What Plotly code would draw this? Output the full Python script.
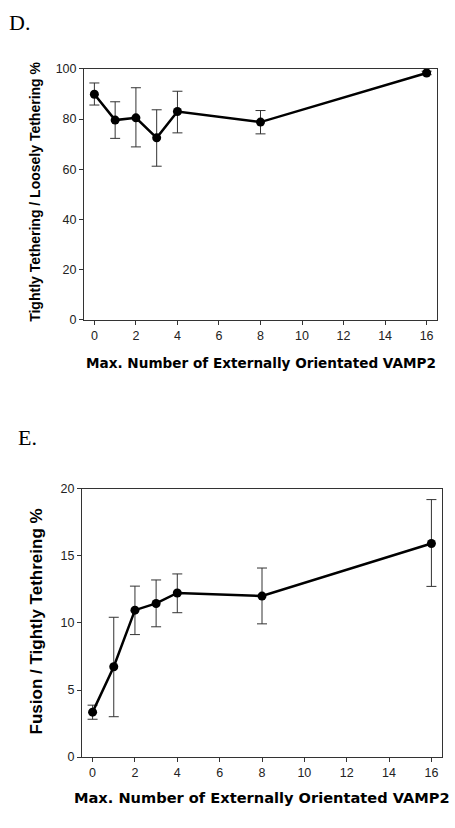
import plotly.graph_objects as go

W, H = 455, 828

# Panel D data
x_vals = [0, 1, 2, 3, 4, 8, 16]
d_mean = [89.9, 79.6, 80.5, 72.5, 83.0, 78.8, 98.4]
d_up = [94.4, 86.9, 92.5, 83.7, 91.1, 83.4, 99.1]
d_lo = [85.6, 72.3, 68.9, 61.2, 74.5, 74.1, 97.7]

# Panel E data
e_mean = [3.35, 6.73, 10.95, 11.45, 12.23, 12.0, 15.92]
e_up = [3.87, 10.42, 12.74, 13.2, 13.65, 14.09, 19.19]
e_lo = [2.82, 3.01, 9.13, 9.71, 10.76, 9.93, 12.72]

x_ticks = [0, 2, 4, 6, 8, 10, 12, 14, 16]
d_yticks = [0, 20, 40, 60, 80, 100]
e_yticks = [0, 5, 10, 15, 20]

x_title = "Max. Number of Externally Orientated VAMP2"
d_ytitle = "Tightly Tethering / Loosely Tethering %"
e_ytitle = "Fusion / Tightly Tethreing %"


def err(mean, up, lo):
    return ([u - m for u, m in zip(up, mean)], [m - l for m, l in zip(mean, lo)])


fig = go.Figure()

d_p, d_m = err(d_mean, d_up, d_lo)
e_p, e_m = err(e_mean, e_up, e_lo)

fig.add_trace(go.Scatter(
    x=x_vals, y=d_mean, mode="lines+markers",
    line=dict(color="black", width=2.5),
    marker=dict(color="black", size=9),
    error_y=dict(type="data", symmetric=False, array=d_p, arrayminus=d_m,
                 color="#333333", thickness=1, width=5),
    xaxis="x", yaxis="y", showlegend=False))

fig.add_trace(go.Scatter(
    x=x_vals, y=e_mean, mode="lines+markers",
    line=dict(color="black", width=2.5),
    marker=dict(color="black", size=9),
    error_y=dict(type="data", symmetric=False, array=e_p, arrayminus=e_m,
                 color="#333333", thickness=1, width=5),
    xaxis="x2", yaxis="y2", showlegend=False))

tickfont = dict(family="Liberation Sans, Arial", size=12.5, color="#222222")

ax_common = dict(showline=True, linecolor="#333333", linewidth=1, mirror=True,
                 ticks="outside", ticklen=4, tickcolor="#333333",
                 showgrid=False, zeroline=False, tickfont=tickfont)

fig.update_layout(
    width=W, height=H,
    margin=dict(l=0, r=0, t=0, b=0),
    paper_bgcolor="white", plot_bgcolor="white",
    xaxis=dict(domain=[84 / W, 437 / W], range=[-0.5, 16.5], tickvals=x_ticks,
               anchor="y", **ax_common),
    yaxis=dict(domain=[1 - 318 / H, 1 - 63 / H], range=[0, 100], tickvals=d_yticks,
               anchor="x", **ax_common),
    xaxis2=dict(domain=[82 / W, 442 / W], range=[-0.5, 16.5], tickvals=x_ticks,
                anchor="y2", **ax_common),
    yaxis2=dict(domain=[1 - 763 / H, 1 - 490 / H], range=[0, 20], tickvals=e_yticks,
                anchor="x2", **ax_common),
)

serif = "Liberation Serif, Times New Roman"
wide_bold = "DejaVu Sans, Verdana"
arial = "Liberation Sans, Arial"
ann = [
    dict(text="D.", x=7 / W, y=1 - 16 / H, xanchor="left", yanchor="middle",
         font=dict(family=serif, size=22, color="black")),
    dict(text="E.", x=16 / W, y=1 - 438 / H, xanchor="left", yanchor="middle",
         font=dict(family=serif, size=22, color="black")),
    dict(text="<b>" + x_title + "</b>", x=261 / W, y=1 - 362 / H, xanchor="center",
         yanchor="middle", font=dict(family=wide_bold, size=13.6, color="black")),
    dict(text="<b>" + x_title + "</b>", x=262 / W, y=1 - 804 / H, xanchor="center",
         yanchor="middle", font=dict(family=wide_bold, size=14.6, color="black")),
    dict(text="<b>" + d_ytitle + "</b>", x=35 / W, y=1 - 188 / H, xanchor="center",
         yanchor="middle", textangle=-90, font=dict(family=arial, size=14, color="black")),
    dict(text="<b>" + e_ytitle + "</b>", x=36 / W, y=1 - 625 / H, xanchor="center",
         yanchor="middle", textangle=-90, font=dict(family=arial, size=17, color="black")),
]
for a in ann:
    a.update(xref="paper", yref="paper", showarrow=False)
fig.update_layout(annotations=ann)

fig.write_html("out.html", config={"displayModeBar": False},
               post_script="document.body.style.margin='0';")
